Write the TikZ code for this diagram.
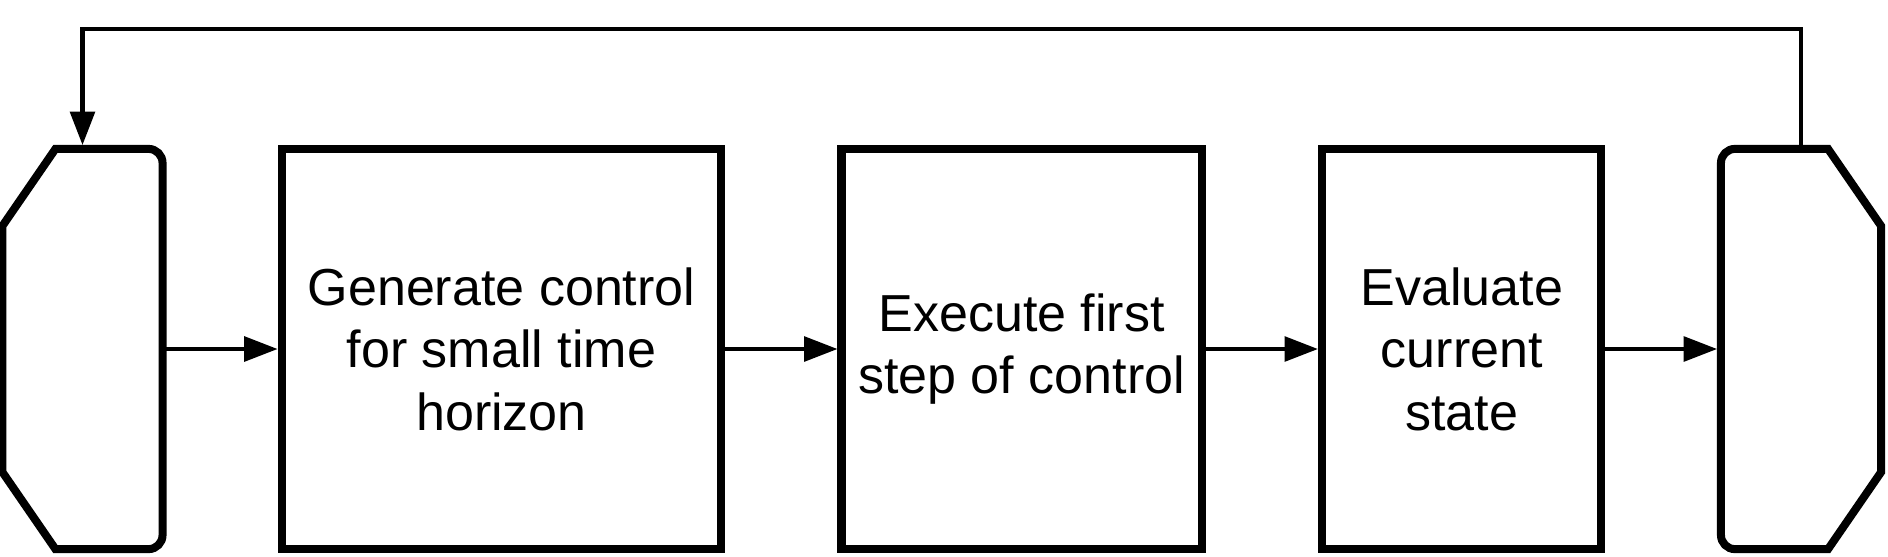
\documentclass[tikz,border=0pt]{standalone}
\usepackage{fontspec}
\setmainfont{Liberation Sans}
\usetikzlibrary{arrows.meta,positioning,calc}
\definecolor{InkBlack}{HTML}{000000}
\definecolor{PaperWhite}{HTML}{FFFFFF}
\tikzset{
  stepbox/.style={rectangle,draw=InkBlack,line width=2.28pt,fill=PaperWhite,
                  minimum height=4cm,minimum width=#1,align=center,
                  font=\fontsize{14.8}{17.8}\selectfont},
  capnode/.style={rectangle,draw=none,outer sep=0pt,
                  minimum height=4cm,minimum width=1.6cm},
  capline/.style={draw=InkBlack,line width=2.28pt,line join=miter},
  arr/.style={-{Triangle[length=9.5pt,width=7pt]},line width=1.14pt,color=InkBlack},
}

\begin{document}
\begin{tikzpicture}[x=0.01cm,y=0.01cm]
  \useasboundingbox (0,0) rectangle (1888,556);

  % start / end of the loop
  \node[capnode] (lcap) at (82.5,207) {};
  \node[capnode] (rcap) at (1801,207) {};

  \draw[capline] ($(lcap.north west)+(53,0)$) -- ($(lcap.north east)+(-14,0)$)
    arc[start angle=90,end angle=0,radius=14]
    -- ($(lcap.south east)+(0,14)$)
    arc[start angle=0,end angle=-90,radius=14]
    -- ($(lcap.south west)+(53,0)$)
    -- ($(lcap.south west)+(0,77)$) -- ($(lcap.north west)+(0,-77)$) -- cycle;
  \draw[capline] ($(rcap.north east)+(-53,0)$) -- ($(rcap.north west)+(14,0)$)
    arc[start angle=90,end angle=180,radius=14]
    -- ($(rcap.south west)+(0,14)$)
    arc[start angle=180,end angle=270,radius=14]
    -- ($(rcap.south east)+(-53,0)$)
    -- ($(rcap.south east)+(0,77)$) -- ($(rcap.north east)+(0,-77)$) -- cycle;

  % the three steps
  \node[stepbox=4.395cm] (gen) at (501.5,207)
    {Generate control\\for small time\\horizon};
  \node[stepbox=3.6cm] (exec) at (1021.6,207)
    {Execute first\\step of control};
  \node[stepbox=2.793cm] (eval) at (1461.7,207)
    {Evaluate\\current\\state};

  \draw[arr,shorten <=1.1pt] (lcap.east) -- (gen.west);
  \draw[arr] (gen.east) -- (exec.west);
  \draw[arr] (exec.east) -- (eval.west);
  \draw[arr,shorten >=1.1pt] (eval.east) -- (rcap.west);

  % feedback
  \coordinate (looptop) at (0,527);
  \draw[arr,shorten >=1.1pt] (rcap.north) -- (rcap.north |- looptop)
    -- (lcap.north |- looptop) -- (lcap.north);

\end{tikzpicture}
\end{document}
